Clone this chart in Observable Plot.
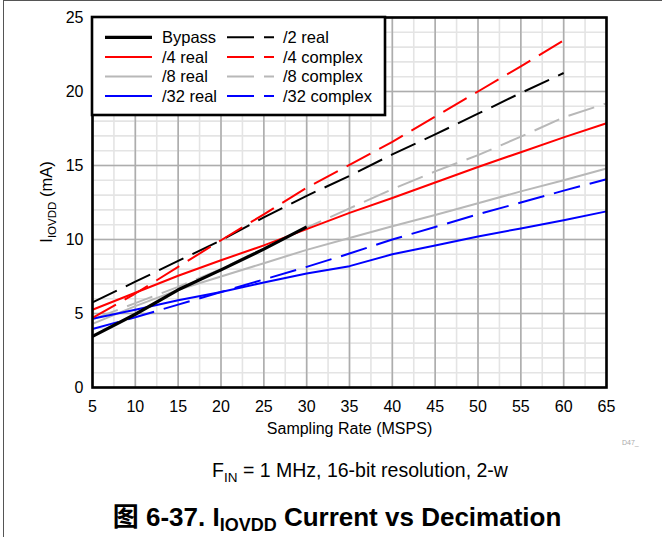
<!DOCTYPE html>
<html><head><meta charset="utf-8">
<script src="https://cdn.jsdelivr.net/npm/d3@7"></script>
<script src="https://cdn.jsdelivr.net/npm/@observablehq/plot@0.6"></script>
<style>
body{margin:0;background:#fff;}
#wrap{position:relative;width:662px;height:537px;overflow:hidden;font-family:"Liberation Sans",Arial,sans-serif;background:#fff;}
#wrap svg.ov{position:absolute;left:0;top:0;}
#wrap figure, #wrap > svg{margin:0;}
</style></head><body><div id="wrap"></div>
<script>
// ---- data ----
const xTicks = [5,10,15,20,25,30,35,40,45,50,55,60,65];
const yTicks = [0,5,10,15,20,25];
const ratesTo65 = [5,10,15,20,25,30,35,40,45,50,55,60,65];
const ratesTo60 = [5,10,15,20,25,30,35,40,45,50,55,60];
const ratesTo30 = [5,10,15,20,25,30];

const bypass       = [3.45,4.95,6.6,7.95,9.35,10.85];
const div2Real     = [5.75,7.15,8.55,9.95,11.5,12.95,14.3,15.75,17.1,18.5,19.9,21.25];
const div4Real     = [5.25,6.4,7.55,8.6,9.6,10.7,11.8,12.8,13.85,14.9,15.9,16.9,17.85];
const div4Complex  = [4.7,6.35,8.15,9.95,11.7,13.5,15.05,16.6,18.3,20.0,21.7,23.45];
const div8Real     = [4.3,5.5,6.6,7.5,8.4,9.3,10.1,10.9,11.65,12.45,13.25,14.0,14.8];
const div8Complex  = [4.6,5.7,6.8,8.0,9.4,10.8,12.1,13.4,14.6,15.7,16.95,18.25,19.2];
const div32Real    = [4.65,5.25,5.9,6.45,7.1,7.7,8.2,9.0,9.6,10.2,10.75,11.3,11.9];
const div32Complex = [3.95,4.75,5.6,6.45,7.3,8.15,9.05,10.0,10.85,11.7,12.5,13.3,14.07];

const series = [
  {name:"Bypass",       x:ratesTo30, y:bypass,       color:"#000000", dash:null,   w:3.2},
  {name:"/4 real",      x:ratesTo65, y:div4Real,     color:"#ff0000", dash:null,   w:2},
  {name:"/8 real",      x:ratesTo65, y:div8Real,     color:"#b8b8b8", dash:null,   w:2},
  {name:"/32 real",     x:ratesTo65, y:div32Real,    color:"#0000ff", dash:null,   w:2},
  {name:"/2 real",      x:ratesTo60, y:div2Real,     color:"#000000", dash:"27,10", w:2},
  {name:"/4 complex",   x:ratesTo60, y:div4Complex,  color:"#ff0000", dash:"27,10", w:2},
  {name:"/8 complex",   x:ratesTo65, y:div8Complex,  color:"#b8b8b8", dash:"27,10", w:2},
  {name:"/32 complex",  x:ratesTo65, y:div32Complex, color:"#0000ff", dash:"27,10", w:2}
];
const drawOrder = ["/8 real","/8 complex","/32 real","/32 complex","/4 real","/2 real","/4 complex","Bypass"];

// ---- plot ----
const W = 662, H = 440;
const xMinor = d3.range(5, 65.01, 2.5);
const yMinor = d3.range(0, 25.01, 1);

const lineMarks = drawOrder.map(n => {
  const s = series.find(d => d.name === n);
  const data = s.x.map((x, i) => ({x, y: s.y[i]}));
  return Plot.line(data, {x:"x", y:"y", stroke:s.color, strokeWidth:s.w,
    strokeDasharray: s.dash || undefined, strokeLinejoin:"round", strokeLinecap:"butt"});
});

const chart = Plot.plot({
  width: W, height: H,
  marginLeft: 92, marginRight: 56, marginTop: 17, marginBottom: 53,
  style: {fontFamily:'"Liberation Sans", Arial, sans-serif', fontSize:"16px", color:"#000", background:"#fff"},
  x: {domain:[5,65]},
  y: {domain:[0,25]},
  marks: [
    Plot.ruleX(xMinor, {stroke:"#e4e4e4", strokeWidth:1.6}),
    Plot.ruleY(yMinor, {stroke:"#e4e4e4", strokeWidth:1.6}),
    Plot.ruleX(xTicks, {stroke:"#adadad", strokeWidth:1.6}),
    Plot.ruleY(yTicks, {stroke:"#adadad", strokeWidth:1.6}),
    ...lineMarks,
    Plot.frame({stroke:"#000", strokeWidth:2.6}),
    Plot.axisX({ticks:xTicks, tickSize:0, tickPadding:13, fontSize:16,
      label:"Sampling Rate (MSPS)", labelAnchor:"center", labelArrow:"none", labelOffset:46}),
    Plot.axisY({ticks:yTicks, tickSize:0, tickPadding:9, fontSize:16, label:null})
  ]
});
const wrap = document.getElementById("wrap");
wrap.appendChild(chart);

// ---- overlay: legend, y label, captions, frame ----
const ov = d3.select(wrap).append("svg").attr("class","ov")
  .attr("width", W).attr("height", 537)
  .style("font-family",'"Liberation Sans", "Noto Sans CJK SC", Arial, sans-serif');

// outer frame
ov.append("line").attr("x1",3.5).attr("x2",662).attr("y1",0.5).attr("y2",0.5).attr("stroke","#555").attr("stroke-width",1);
ov.append("line").attr("x1",3.5).attr("x2",3.5).attr("y1",0).attr("y2",537).attr("stroke","#555").attr("stroke-width",1);

// legend
const lg = ov.append("g").attr("transform","translate(92,17)");
lg.append("rect").attr("x",0).attr("y",0).attr("width",293).attr("height",98)
  .attr("fill","#fff").attr("stroke","#000").attr("stroke-width",2.6);
const colX = [{line:13, text:70},{line:135, text:191}];
series.forEach((s, i) => {
  const col = Math.floor(i / 4), row = i % 4;
  const cy = 20.3 + row * 19.6;
  lg.append("line").attr("x1", colX[col].line).attr("x2", colX[col].line + 47)
    .attr("y1", cy).attr("y2", cy).attr("stroke", s.color).attr("stroke-width", s.w)
    .attr("stroke-dasharray", s.dash);
  lg.append("text").attr("x", colX[col].text).attr("y", cy).attr("dy","0.36em")
    .attr("font-size", 16.5).text(s.name);
});

// y label
const yl = ov.append("text").attr("transform","translate(52,202) rotate(-90)")
  .attr("text-anchor","middle").attr("font-size",16.5);
yl.append("tspan").text("I");
yl.append("tspan").attr("font-size",11.5).attr("dy",4).text("IOVDD");
yl.append("tspan").attr("dy",-4).text(" (mA)");

// D47_
ov.append("text").attr("x",622).attr("y",445).attr("font-size",7).attr("fill","#aaa").text("D47_");

// subtitle
const st = ov.append("text").attr("x",360).attr("y",477).attr("text-anchor","middle").attr("font-size",19.5);
st.append("tspan").text("F");
st.append("tspan").attr("font-size",13.5).attr("dy",5).text("IN");
st.append("tspan").attr("dy",-5).text(" = 1 MHz, 16-bit resolution, 2-w");

// title
const tt = ov.append("text").attr("x",337).attr("y",526).attr("text-anchor","middle")
  .attr("font-size",26).attr("font-weight","bold");
tt.append("tspan").text("图 6-37. I");
tt.append("tspan").attr("font-size",18).attr("dy",5).text("IOVDD");
tt.append("tspan").attr("dy",-5).text(" Current vs Decimation");
</script></body></html>
